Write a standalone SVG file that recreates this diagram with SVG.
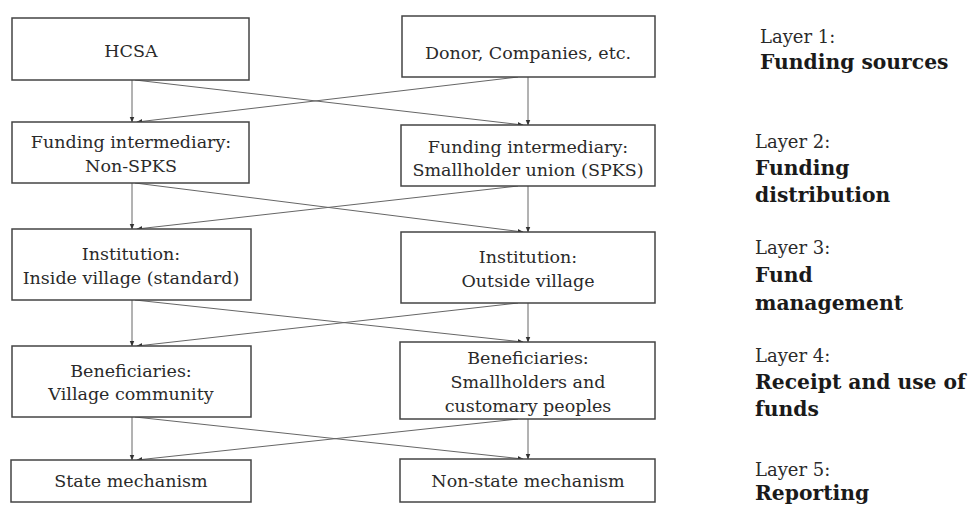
<svg xmlns="http://www.w3.org/2000/svg" width="971" height="506" viewBox="0 0 971 506">
<defs>
<marker id="ah" viewBox="0 0 10 10" refX="9" refY="5" markerWidth="6" markerHeight="6" orient="auto" markerUnits="userSpaceOnUse">
<path d="M0,1 L10,5 L0,9 z" fill="#333"/>
</marker>
<style>
.box{fill:#fff;stroke:#444;stroke-width:1.5}
.t{font-family:"DejaVu Serif","Liberation Serif",serif;font-size:17.5px;fill:#2a2a2a;text-anchor:middle}
.l{font-family:"DejaVu Serif","Liberation Serif",serif;font-size:18px;fill:#2a2a2a}
.b{font-family:"DejaVu Serif","Liberation Serif",serif;font-size:20.3px;font-weight:bold;fill:#1a1a1a}
.c{fill:none;stroke:#666;stroke-width:1;marker-end:url(#ah)}
</style>
</defs>
<rect width="971" height="506" fill="#fff"/>
<g id="connectors">
<line class="c" x1="132" y1="80" x2="132" y2="122"/>
<line class="c" x1="135" y1="80" x2="523" y2="125"/>
<line class="c" x1="528" y1="77" x2="528" y2="125"/>
<line class="c" x1="518" y1="77" x2="137" y2="122"/>

<line class="c" x1="132" y1="183" x2="132" y2="229"/>
<line class="c" x1="135" y1="183" x2="523" y2="232"/>
<line class="c" x1="528" y1="186" x2="528" y2="232"/>
<line class="c" x1="518" y1="186" x2="137" y2="229"/>

<line class="c" x1="132" y1="300" x2="132" y2="346"/>
<line class="c" x1="135" y1="300" x2="523" y2="342"/>
<line class="c" x1="528" y1="303" x2="528" y2="342"/>
<line class="c" x1="518" y1="303" x2="137" y2="346"/>

<line class="c" x1="132" y1="417" x2="132" y2="460"/>
<line class="c" x1="135" y1="417" x2="523" y2="459"/>
<line class="c" x1="528" y1="419" x2="528" y2="459"/>
<line class="c" x1="518" y1="419" x2="137" y2="460"/>
</g>
<g id="hcsa"><rect class="box" x="12" y="18" width="237" height="62"/><text class="t" x="131" y="57">HCSA</text></g>
<g id="donor"><rect class="box" x="402" y="16" width="253" height="61"/><text class="t" x="528" y="59">Donor, Companies, etc.</text></g>
<g id="fi-nonspks"><rect class="box" x="12" y="122" width="237" height="61"/><text class="t" x="131" y="148">Funding intermediary:</text><text class="t" x="131" y="172">Non-SPKS</text></g>
<g id="fi-spks"><rect class="box" x="401" y="125" width="254" height="61"/><text class="t" x="528" y="153">Funding intermediary:</text><text class="t" x="528" y="176">Smallholder union (SPKS)</text></g>
<g id="inst-inside"><rect class="box" x="12" y="229" width="239" height="71"/><text class="t" x="131" y="260">Institution:</text><text class="t" x="131" y="284">Inside village (standard)</text></g>
<g id="inst-outside"><rect class="box" x="401" y="232" width="254" height="71"/><text class="t" x="528" y="263">Institution:</text><text class="t" x="528" y="287">Outside village</text></g>
<g id="ben-village"><rect class="box" x="12" y="346" width="239" height="71"/><text class="t" x="131" y="377">Beneficiaries:</text><text class="t" x="131" y="400">Village community</text></g>
<g id="ben-small"><rect class="box" x="400" y="342" width="255" height="77"/><text class="t" x="528" y="364">Beneficiaries:</text><text class="t" x="528" y="388">Smallholders and</text><text class="t" x="528" y="412">customary peoples</text></g>
<g id="state"><rect class="box" x="11" y="460" width="240" height="42"/><text class="t" x="131" y="487">State mechanism</text></g>
<g id="nonstate"><rect class="box" x="400" y="459" width="255" height="43"/><text class="t" x="528" y="487">Non-state mechanism</text></g>
<g id="layers">
<text class="l" x="760" y="43">Layer 1:</text><text class="b" x="760" y="69">Funding sources</text>
<text class="l" x="755" y="148">Layer 2:</text><text class="b" x="755" y="175">Funding</text><text class="b" x="755" y="202">distribution</text>
<text class="l" x="755" y="254">Layer 3:</text><text class="b" x="755" y="282">Fund</text><text class="b" x="755" y="310">management</text>
<text class="l" x="755" y="362">Layer 4:</text><text class="b" x="755" y="389">Receipt and use of</text><text class="b" x="755" y="416">funds</text>
<text class="l" x="755" y="476">Layer 5:</text><text class="b" x="755" y="500">Reporting</text>
</g>
</svg>
